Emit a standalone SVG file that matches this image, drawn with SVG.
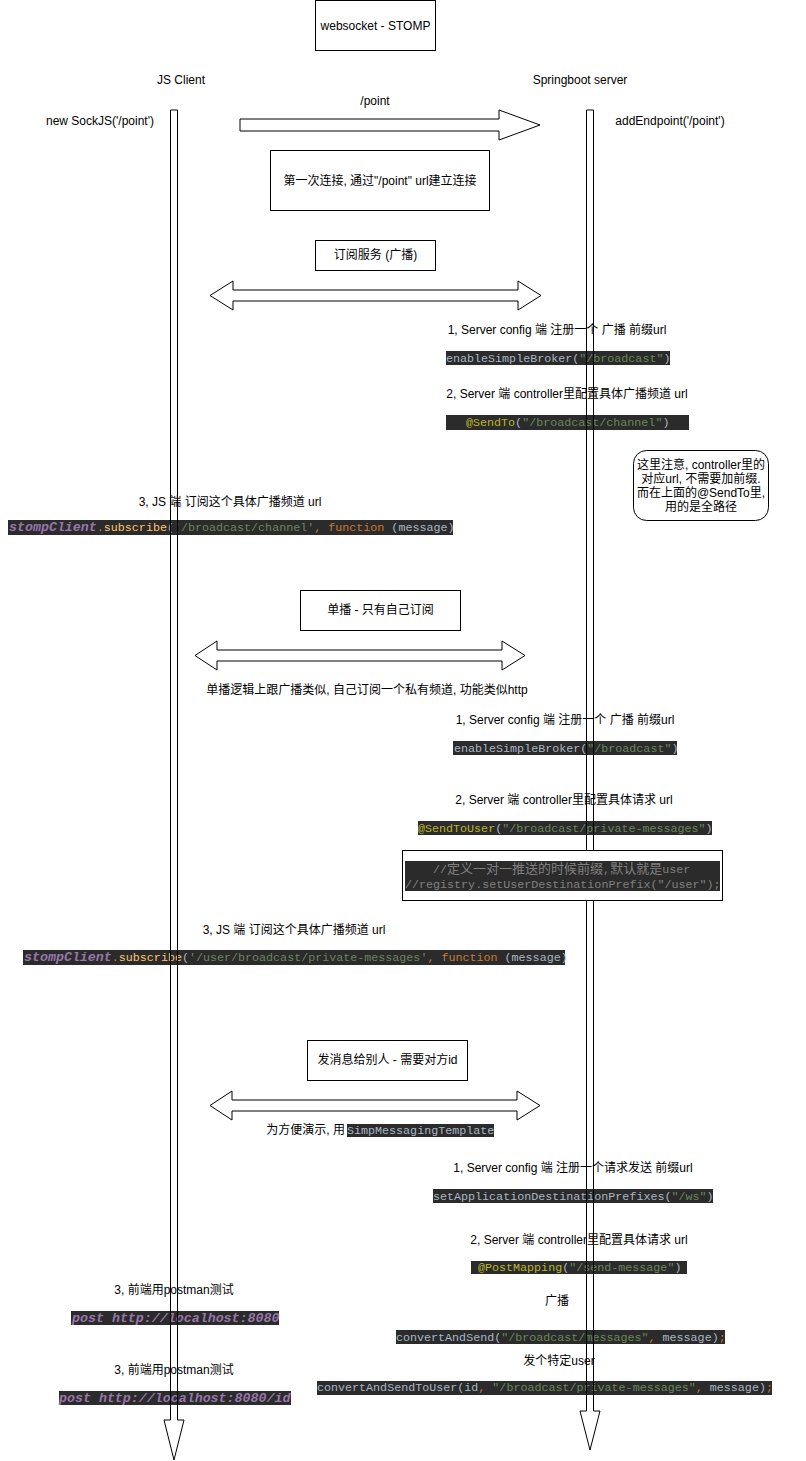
<svg xmlns="http://www.w3.org/2000/svg" width="806" height="1461" viewBox="0 0 806 1461">
<style>
.lbl{font-family:"Liberation Sans","Noto Sans CJK SC",sans-serif;font-size:12px;fill:#000}
.mid{text-anchor:middle}
.end{text-anchor:end}
.code{font-family:"Liberation Mono","Noto Sans CJK SC",monospace;font-size:11.7px;fill:#A9B7C6}
.s{fill:#6A8759}.k{fill:#CC7832}.a{fill:#BBB529}.f{fill:#FFC66D}.c{fill:#808080}
.p{fill:#9876AA;font-weight:bold;font-style:italic;font-size:13.3px}
.bg{fill:#2B2B2B}
.box{fill:#fff;stroke:#000;stroke-width:1}
.ln{fill:none;stroke:#000;stroke-width:1}
.ar{fill:#fff;stroke:#000;stroke-width:1}
</style>
<rect width="806" height="1461" fill="#fff"/>

<g id="title"><rect class="box" x="315.5" y="0.5" width="120" height="50"/><text class="lbl mid" x="375.5" y="30">websocket - STOMP</text></g>
<g id="js-client-label"><text class="lbl mid" x="181" y="84">JS Client</text></g>
<g id="server-label"><text class="lbl mid" x="580" y="84">Springboot server</text></g>
<g id="point-label"><text class="lbl mid" x="375" y="105">/point</text></g>
<g id="sockjs"><text class="lbl mid" x="100" y="125">new SockJS('/point')</text></g>
<g id="addendpoint"><text class="lbl mid" x="670" y="125">addEndpoint('/point')</text></g>
<g id="first-connect"><rect class="box" x="270.5" y="150.5" width="219" height="60"/><text class="lbl mid" x="380" y="185">第一次连接, 通过"/point" url建立连接</text></g>

<g id="sub-title"><rect class="box" x="315.5" y="240.5" width="120" height="30"/><text class="lbl mid" x="375.5" y="259">订阅服务 (广播)</text></g>
<g id="b1-label"><text class="lbl mid" x="557" y="334">1, Server config 端 注册一个 广播 前缀url</text></g>
<g id="b1-code"><rect class="bg" x="446" y="351" width="224" height="14"/><text class="code" x="446" y="362">enableSimpleBroker(<tspan class="s">"/broadcast"</tspan>)</text></g>
<g id="b2-label"><text class="lbl mid" x="567" y="398">2, Server 端 controller里配置具体广播频道 url</text></g>
<g id="b2-code"><rect class="bg" x="446" y="415" width="243" height="15"/><text class="code" x="466" y="426"><tspan class="a">@SendTo</tspan>(<tspan class="s">"/broadcast/channel"</tspan>)</text></g>
<g id="note"><rect class="box" x="633.5" y="450.5" width="135" height="70" rx="13" ry="13"/>
<text class="lbl mid" x="701" y="469">这里注意, controller里的</text>
<text class="lbl mid" x="701" y="483">对应url, 不需要加前缀.</text>
<text class="lbl mid" x="701" y="497">而在上面的@SendTo里,</text>
<text class="lbl mid" x="701" y="511">用的是全路径</text></g>
<g id="b3-label"><text class="lbl mid" x="230" y="506">3, JS 端 订阅这个具体广播频道 url</text></g>
<g id="b3-code"><rect class="bg" x="8" y="520" width="445" height="15"/><text class="code" x="9" y="531" xml:space="preserve"><tspan class="p">stompClient</tspan><tspan class="k">.</tspan><tspan class="f">subscribe</tspan>(<tspan class="s">'/broadcast/channel'</tspan><tspan class="k">, function</tspan> (message)</text></g>

<g id="uni-title"><rect class="box" x="300.5" y="590.5" width="160" height="40"/><text class="lbl mid" x="380.5" y="614">单播 - 只有自己订阅</text></g>
<g id="uni-desc"><text class="lbl mid" x="367" y="694">单播逻辑上跟广播类似, 自己订阅一个私有频道, 功能类似http</text></g>
<g id="u1-label"><text class="lbl mid" x="565" y="724">1, Server config 端 注册一个 广播 前缀url</text></g>
<g id="u1-code"><rect class="bg" x="453" y="741" width="224" height="14"/><text class="code" x="454" y="752">enableSimpleBroker(<tspan class="s">"/broadcast"</tspan>)</text></g>
<g id="u2-label"><text class="lbl mid" x="564" y="804">2, Server 端 controller里配置具体请求 url</text></g>
<g id="u2-code"><rect class="bg" x="418" y="821" width="294" height="14"/><text class="code" x="418" y="832"><tspan class="a">@SendToUser</tspan>(<tspan class="s">"/broadcast/private-messages"</tspan>)</text></g>
<g id="u3-label"><text class="lbl mid" x="294" y="934">3, JS 端 订阅这个具体广播频道 url</text></g>
<g id="u3-code"><rect class="bg" x="23" y="950" width="542" height="15"/><text class="code" x="24" y="961" xml:space="preserve"><tspan class="p">stompClient</tspan><tspan class="k">.</tspan><tspan class="f">subscribe</tspan>(<tspan class="s">'/user/broadcast/private-messages'</tspan><tspan class="k">, function</tspan> (message)</text></g>

<g id="send-title"><rect class="box" x="307.5" y="1040.5" width="160" height="40"/><text class="lbl mid" x="387.5" y="1064">发消息给别人 - 需要对方id</text></g>
<g id="send-desc"><text class="lbl end" x="345" y="1134">为方便演示, 用 </text><rect class="bg" x="347" y="1124" width="147" height="13"/><text class="code" x="347" y="1134">SimpMessagingTemplate</text></g>
<g id="s1-label"><text class="lbl mid" x="573" y="1172">1, Server config 端 注册一个请求发送 前缀url</text></g>
<g id="s1-code"><rect class="bg" x="433" y="1189" width="280" height="14"/><text class="code" x="433" y="1200">setApplicationDestinationPrefixes(<tspan class="s">"/ws"</tspan>)</text></g>
<g id="s2-label"><text class="lbl mid" x="579" y="1244">2, Server 端 controller里配置具体请求 url</text></g>
<g id="s2-code"><rect class="bg" x="471" y="1261" width="216" height="13"/><text class="code" x="478" y="1271"><tspan class="a">@PostMapping</tspan>(<tspan class="s">"/send-message"</tspan>)</text></g>
<g id="bc-label"><text class="lbl mid" x="557" y="1305">广播</text></g>
<g id="bc-code"><rect class="bg" x="396" y="1330" width="329" height="14"/><text class="code" x="396" y="1341" xml:space="preserve">convertAndSend(<tspan class="s">"/broadcast/messages"</tspan><tspan class="k">, </tspan>message)<tspan class="k">;</tspan></text></g>
<g id="tu-label"><text class="lbl mid" x="559" y="1365">发个特定user</text></g>
<g id="tu-code"><rect class="bg" x="317" y="1381" width="455" height="14"/><text class="code" x="317" y="1391" xml:space="preserve">convertAndSendToUser(id<tspan class="k">, </tspan><tspan class="s">"/broadcast/private-messages"</tspan><tspan class="k">, </tspan>message)<tspan class="k">;</tspan></text></g>
<g id="pm1-label"><text class="lbl mid" x="174" y="1294">3, 前端用postman测试</text></g>
<g id="pm1-code"><rect class="bg" x="71" y="1311" width="208" height="14"/><text class="code" x="72" y="1322"><tspan class="p">post http://localhost:8080</tspan></text></g>
<g id="pm2-label"><text class="lbl mid" x="174" y="1374">3, 前端用postman测试</text></g>
<g id="pm2-code"><rect class="bg" x="59" y="1391" width="232" height="14"/><text class="code" x="59" y="1402"><tspan class="p">post http://localhost:8080/id</tspan></text></g>

<g id="connectors">
<path class="ln" d="M170.5,110 H177.5 V1420 H184 L174,1460 L164,1420 H170.5 Z"/>
<path class="ln" d="M586.5,110 H593.5 V1411 H600 L590,1450 L580,1411 H586.5 Z"/>
<path class="ar" d="M240,119 H499 V110 L540,125 L499,140 V131 H240 Z"/>
<path class="ar" d="M210,295.5 L233,281 V290 H518 V281 L541,295.5 L518,310 V301 H233 V310 Z"/>
<path class="ar" d="M195,655.5 L217,641 V650 H502 V641 L525,655.5 L502,670 V661 H217 V670 Z"/>
<path class="ar" d="M210,1105.5 L232,1091 V1100 H517 V1091 L540,1105.5 L517,1120 V1111 H232 V1120 Z"/>
</g>

<g id="comment-box"><rect class="box" x="402.5" y="850.5" width="320" height="50"/><rect class="bg" x="405" y="861" width="315" height="30"/>
<text class="code c" x="405" y="873" xml:space="preserve">    //<tspan style="font-size:13px">定义一对一推送的时候前缀</tspan>,<tspan style="font-size:13px">默认就是</tspan>user</text>
<text class="code c" x="405" y="888">//registry.setUserDestinationPrefix("/user");</text></g>
</svg>
